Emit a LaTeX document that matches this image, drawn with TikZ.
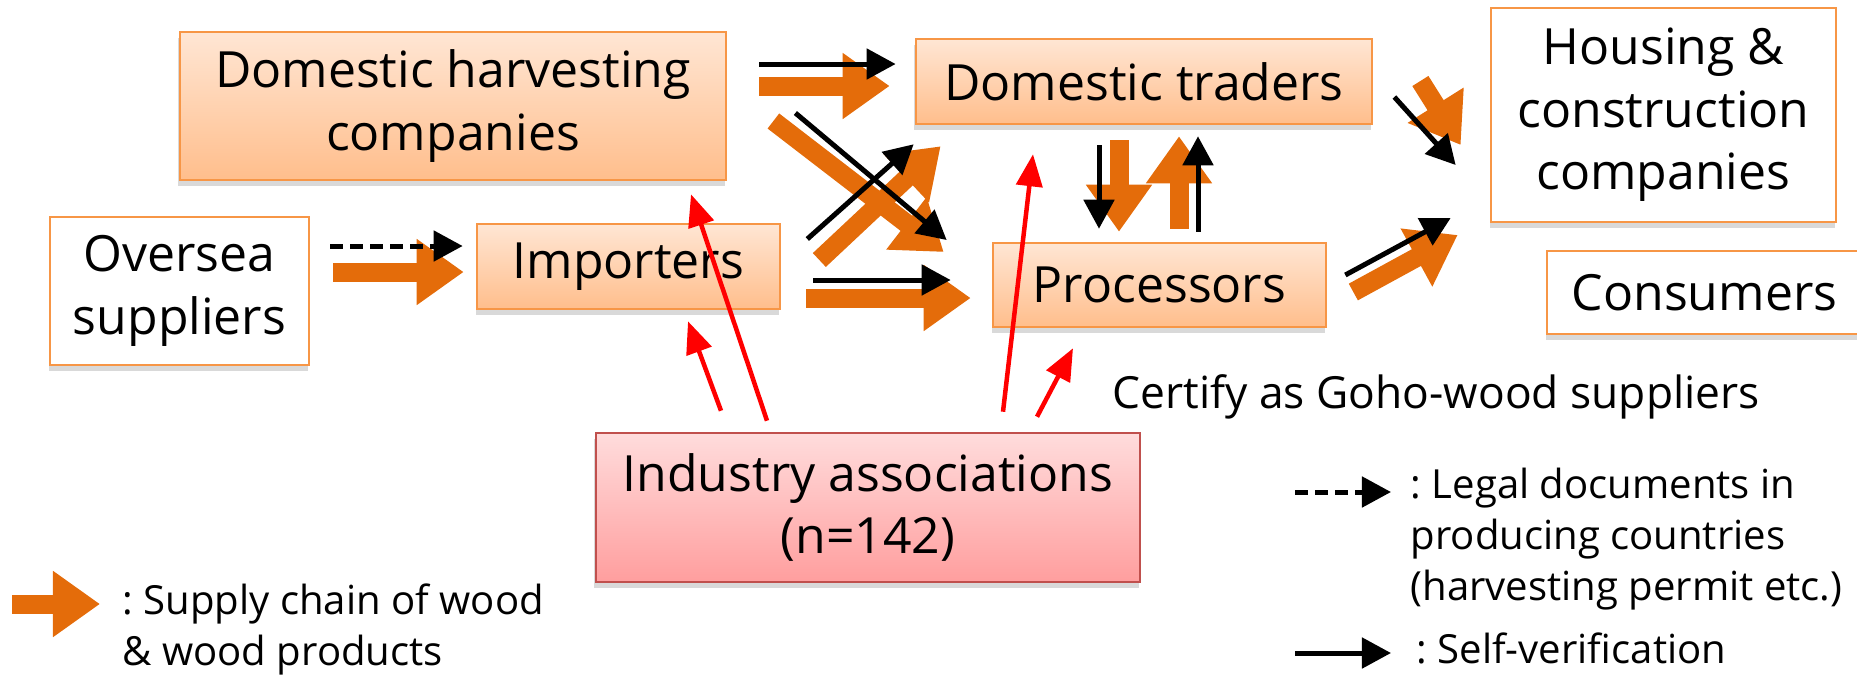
\documentclass[tikz,border=0pt]{standalone}
\usepackage{fontspec}
\setmainfont{Open Sans}
\usetikzlibrary{arrows.meta, calc, shadows}

\definecolor{woodorange}{HTML}{E46C0A}
\definecolor{boxline}{HTML}{F79646}
\definecolor{boxtop}{HTML}{FFE6D4}
\definecolor{boxbot}{HTML}{FFBE8C}
\definecolor{assoctop}{HTML}{FFDCDC}
\definecolor{assocbot}{HTML}{FF9E9E}
\definecolor{assocline}{HTML}{C0504D}

\tikzset{
	boxtext/.style={font=\fontsize{14.2}{17.8}\selectfont, align=center, inner sep=0pt},
	softshadow/.style={drop shadow={shadow xshift=-0.4pt, shadow yshift=-1.8pt, opacity=0.25, fill=black!60}},
	actor/.style={boxtext, draw=boxline, line width=0.7pt, top color=boxtop, bottom color=boxbot, softshadow},
	enduser/.style={boxtext, draw=boxline, line width=0.7pt, fill=white, softshadow},
	assoc/.style={boxtext, draw=assocline, line width=0.7pt, top color=assoctop, bottom color=assocbot, softshadow},
	supply/.style={woodorange, line width=0.19cm, -{Triangle[length=0.47cm,width=0.63cm]}},
	selfcheck/.style={black, line width=0.05cm, -{Triangle[length=0.29cm,width=0.30cm]}},
	legaldoc/.style={selfcheck, dash pattern=on 0.13cm off 0.07cm},
	certify/.style={red, line width=0.045cm, -{Triangle[length=0.32cm,width=0.26cm]}},
	legendtext/.style={font=\fontsize{11.4}{14.5}\selectfont\frenchspacing, align=left, inner sep=0pt}
}

\begin{document}
\begin{tikzpicture}[x=0.01cm, y=-0.01cm]
	\useasboundingbox (0,0) rectangle (1857,675);

	% actors
	\node[actor, minimum width=5.46cm, minimum height=1.48cm]   (harv) at (453,106)    {Domestic harvesting\\companies};
	\node[actor, minimum width=4.56cm, minimum height=0.85cm]   (trad) at (1144,81.5)  {Domestic traders};
	\node[enduser, minimum width=3.45cm, minimum height=2.14cm] (hous) at (1663.5,115) {Housing \&\\construction\\companies};
	\node[enduser, minimum width=3.15cm, minimum height=0.83cm] (cons) at (1704.5,292.5) {Consumers};
	\node[enduser, minimum width=2.59cm, minimum height=1.48cm] (over) at (179.5,291)  {Oversea\\suppliers};
	\node[actor, minimum width=3.03cm, minimum height=0.85cm]   (imp)  at (628.5,266.5) {Importers};
	\node[actor, minimum width=3.33cm, minimum height=0.84cm]   (proc) at (1159.5,285) {Processors};
	\node[assoc, minimum width=5.44cm, minimum height=1.49cm]   (ind)  at (868,507.5)  {Industry associations\\(n=142)};

	\node[font=\fontsize{12.6}{15}\selectfont, anchor=base west, inner sep=0pt] (cert) at (1112,408) {Certify as Goho-wood suppliers};

	% wood flow
	\draw[supply] ($(over.east)+(23,-19)$) -- ($(imp.west)+(-12,5.5)$);
	\draw[supply] ($(harv.east)+(32,-20)$) -- ($(trad.west)+(-25,4.5)$);
	\draw[supply] ($(harv.east)+(46,15)$) -- ($(proc.west)+(-48,-33)$);
	\draw[supply] ($(imp.east)+(38,-6.5)$) -- ($(trad.south west)+(26,21)$);
	\draw[supply] ($(imp.east)+(25,31.5)$) -- ($(proc.west)+(-21,13)$);
	\draw[supply] ($(trad.south)+(-25,15)$) -- ($(proc.north)+(-40.5,-10)$);
	\draw[supply] ($(proc.north)+(19.5,-13)$) -- ($(trad.south)+(35,11)$);
	\draw[supply] ($(trad.east)+(47,-0.5)$) -- ($(hous.west)+(-29,30)$);
	\draw[supply] ($(proc.east)+(26,7)$) -- ($(hous.west)+(-32,120)$);

	% documents and self-verification
	\draw[legaldoc] ($(over.east)+(20,-45)$) -- ($(imp.west)+(-13,-20.5)$);
	\draw[selfcheck] ($(harv.east)+(32,-42)$) -- ($(trad.west)+(-19,-17.5)$);
	\draw[selfcheck] ($(harv.east)+(68,7)$) -- ($(proc.west)+(-45,-45)$);
	\draw[selfcheck] ($(imp.east)+(26,-27.5)$) -- ($(trad.south west)+(-1,19)$);
	\draw[selfcheck] ($(imp.east)+(32,13.5)$) -- ($(proc.west)+(-41,-5)$);
	\draw[selfcheck] ($(trad.south)+(-45,20)$) -- ($(proc.north)+(-60.5,-13)$);
	\draw[selfcheck] ($(proc.north)+(38.5,-10)$) -- ($(trad.south)+(54,11)$);
	\draw[selfcheck] ($(trad.east)+(21,15.5)$) -- ($(hous.west)+(-34,50)$);
	\draw[selfcheck] ($(proc.east)+(18,-10)$) -- ($(hous.west)+(-39,103)$);

	% certification
	\draw[certify] ($(ind.north)+(-101,-11)$) -- ($(harv.south)+(238,13)$);
	\draw[certify] ($(ind.north)+(-147,-21)$) -- ($(imp.south)+(59.5,11)$);
	\draw[certify] ($(ind.north)+(135,-20)$) -- ($(trad.south)+(-111,29)$);
	\draw[certify] ($(ind.north)+(169,-15)$) -- ($(proc.south)+(-86.5,20)$);

	% legend
	\coordinate (supply tail) at (12,604);
	\coordinate (supply tip)  at (100,604);
	\coordinate (legal tail)  at (1295,492);
	\coordinate (legal tip)   at (1391,492);
	\coordinate (self tail)   at (1295,653);
	\coordinate (self tip)    at (1391,653);
	\draw[supply] (supply tail) -- (supply tip);
	\draw[legaldoc] (legal tail) -- (legal tip);
	\draw[selfcheck] (self tail) -- (self tip);
	\node[legendtext, anchor=base west] (lsupply) at (122,665)  {: Supply chain of wood\\\& wood products};
	\node[legendtext, anchor=base west] (llegal)  at (1410,600) {: Legal documents in\\producing countries\\(harvesting permit etc.)};
	\node[legendtext, anchor=base west] (lself)   at (1416,663) {: Self-verification};
\end{tikzpicture}
\end{document}
